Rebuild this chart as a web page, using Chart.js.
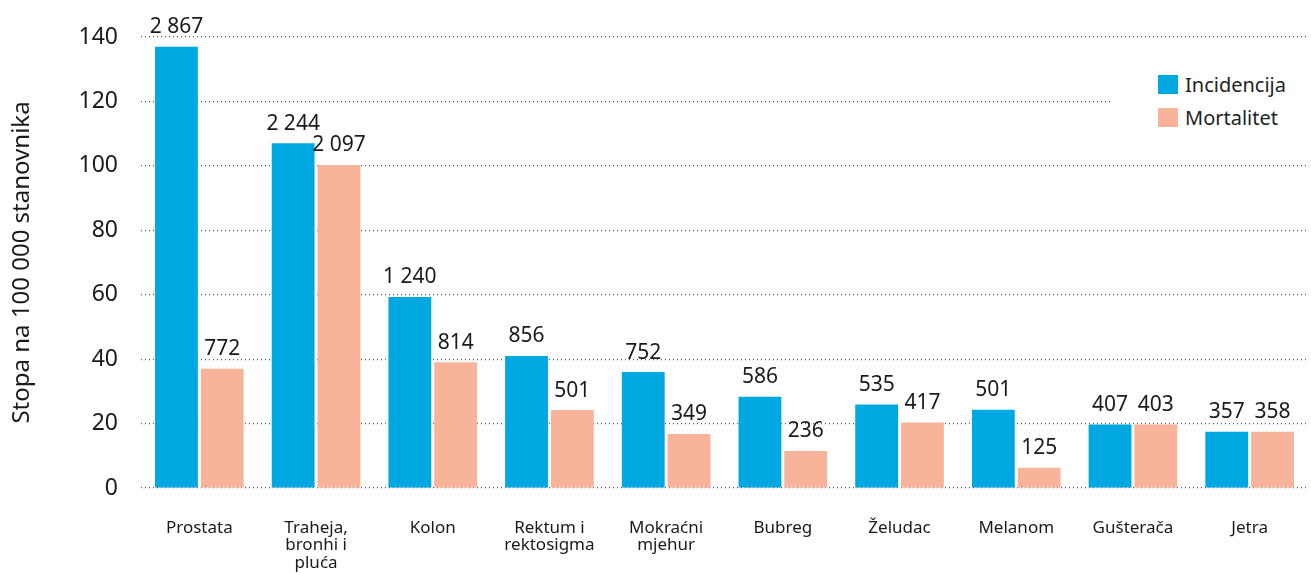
<!DOCTYPE html>
<html>
<head>
<meta charset="utf-8">
<script src="https://cdn.jsdelivr.net/npm/chart.js@4"></script>
<style>
  html, body { margin: 0; padding: 0; background: #fff; }
  #wrap { position: relative; width: 1311px; height: 573px; }
  #legend {
    position: absolute; left: 1113px; top: 64px; width: 198px; height: 72px;
    background: #fff; font-family: "Noto Sans", sans-serif; font-size: 20px; color: #222;
  }
  #legend div { position: absolute; left: 72px; height: 20px; line-height: 20px; }
  #legend span { position: absolute; left: -27px; top: 0; width: 20px; height: 19px; }
</style>
</head>
<body>
<div id="wrap">
  <canvas id="chart" width="1311" height="573"></canvas>
  <div id="legend">
    <div style="top:11px"><span style="background:#00a8e1"></span>Incidencija</div>
    <div style="top:44px"><span style="background:#f8b39b"></span>Mortalitet</div>
  </div>
</div>
<script>
// data
const categories = [
  "Prostata",
  ["Traheja,", "bronhi i", "pluća"],
  "Kolon",
  ["Rektum i", "rektosigma"],
  ["Mokraćni", "mjehur"],
  "Bubreg",
  "Želudac",
  "Melanom",
  "Gušterača",
  "Jetra",
];
const incidencija = [137, 107, 59.3, 41, 36, 28.3, 25.9, 24.3, 19.7, 17.5];
const mortalitet = [37, 100.3, 39, 24.2, 16.8, 11.5, 20.3, 6.3, 19.7, 17.5];
const incidencijaCount = ["2 867", "2 244", "1 240", "856", "752", "586", "535", "501", "407", "357"];
const mortalitetCount = ["772", "2 097", "814", "501", "349", "236", "417", "125", "403", "358"];
const yTicks = [0, 20, 40, 60, 80, 100, 120, 140];

const FONT = "'Noto Sans', sans-serif";

// count labels above each bar
const countLabels = {
  id: "countLabels",
  afterDatasetsDraw(chart) {
    const ctx = chart.ctx;
    const counts = [incidencijaCount, mortalitetCount];
    ctx.save();
    ctx.font = "21px " + FONT;
    ctx.fillStyle = "#1a1a1a";
    ctx.textAlign = "center";
    ctx.textBaseline = "bottom";
    chart.data.datasets.forEach(function (ds, i) {
      chart.getDatasetMeta(i).data.forEach(function (bar, j) {
        ctx.fillText(counts[i][j], bar.x, bar.y - 9);
      });
    });
    ctx.restore();
  },
};

new Chart(document.getElementById("chart").getContext("2d"), {
  type: "bar",
  data: {
    labels: categories,
    datasets: [
      {
        label: "Incidencija",
        data: incidencija,
        backgroundColor: "#00a8e1",
        categoryPercentage: 0.785,
        barPercentage: 0.935,
      },
      {
        label: "Mortalitet",
        data: mortalitet,
        backgroundColor: "#f8b39b",
        categoryPercentage: 0.785,
        barPercentage: 0.935,
      },
    ],
  },
  options: {
    responsive: false,
    animation: false,
    layout: { padding: { top: 37, right: 3, bottom: 0, left: 0 } },
    plugins: {
      legend: { display: false },
      tooltip: { enabled: false },
    },
    scales: {
      x: {
        grid: { display: false, drawTicks: false },
        border: { display: false },
        ticks: {
          color: "#1a1a1a",
          padding: 31,
          maxRotation: 0,
          autoSkip: false,
          font: { family: FONT, size: 17, lineHeight: 1.03 },
        },
        afterFit(scale) { scale.height = 85; },
      },
      y: {
        min: 0,
        max: 140,
        afterBuildTicks(scale) { scale.ticks = yTicks.map(v => ({ value: v })); },
        grid: {
          color: "#555",
          lineWidth: 1.2,
          drawTicks: false,
        },
        border: { display: false, dash: [1, 3] },
        ticks: {
          color: "#1a1a1a",
          padding: 23,
          font: { family: FONT, size: 23 },
        },
        title: {
          display: true,
          text: "Stopa na 100 000 stanovnika",
          color: "#1a1a1a",
          padding: { top: 8, bottom: 0 },
          font: { family: FONT, size: 24 },
        },
        afterFit(scale) { scale.width = 141; },
      },
    },
  },
  plugins: [countLabels],
});
</script>
</body>
</html>
